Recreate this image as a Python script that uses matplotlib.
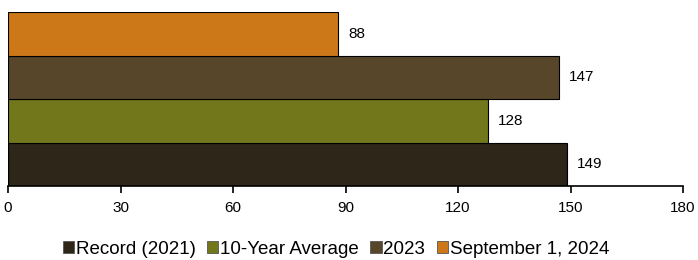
import matplotlib
matplotlib.use("Agg")
import matplotlib.pyplot as plt
from matplotlib.patches import Patch

plt.rcParams['font.family'] = ['Liberation Sans', 'DejaVu Sans']

series = ["Record (2021)", "10-Year Average", "2023", "September 1, 2024"]
values = [149, 128, 147, 88]
colors = ["#2E2619", "#71771A", "#574629", "#CD7818"]
xticks = [0, 30, 60, 90, 120, 150, 180]

fig = plt.figure(figsize=(6.98, 2.60), dpi=100)
ax = fig.add_axes([8/698, 1-186/260, 675/698, 174/260])

for i, (s, v, c) in enumerate(zip(series, values, colors)):
    ax.barh(i, v, height=1.0, color=c, edgecolor="black", linewidth=0.8, label=s)
    ax.text(v + 2.7, i, str(v), va="center", ha="left", fontsize=11)

ax.set_xlim(0, 180)
ax.set_ylim(-0.5, 3.5)
ax.set_xticks(xticks)
ax.set_xticklabels([str(t) for t in xticks], fontsize=11)
ax.set_yticks([])
for sp in ["left", "right", "top"]:
    ax.spines[sp].set_visible(False)
ax.spines["bottom"].set_linewidth(1.2)
ax.tick_params(axis="x", length=5, width=1.2, pad=6)

handles = [Patch(facecolor=c, edgecolor="#555555", linewidth=0.6) for c in colors]
fig.legend(handles, series, loc="center", bbox_to_anchor=(336/698, 1-249/260), ncol=4,
           frameon=False, fontsize=13.5, handlelength=0.6, handleheight=0.6,
           handletextpad=0.1, columnspacing=0.6, borderaxespad=0)

fig.savefig("out.png", dpi=100)
